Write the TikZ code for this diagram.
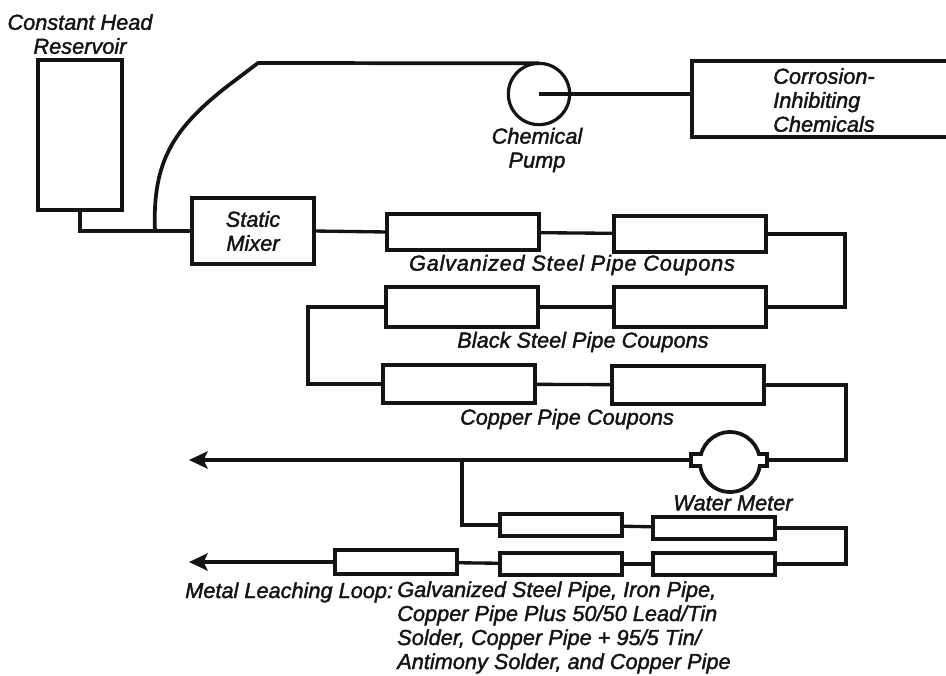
\documentclass[tikz,border=0pt]{standalone}
\usepackage{fontspec}
\setmainfont[ItalicFeatures={FakeBold=1.7}]{Liberation Sans}
\usetikzlibrary{shapes.geometric, arrows.meta, positioning}
\definecolor{Ink}{HTML}{141414}

\begin{document}
\begin{tikzpicture}[
            x=0.75pt, y=-0.75pt,
            box/.style={
                rectangle,
                draw=Ink,
                line width=3pt,
                fill=white,
                outer sep=0pt,
                inner sep=0pt
            },
            coupon/.style={box, minimum width=114pt, minimum height=27pt},
            loopbox/.style={box, line width=2.8pt, minimum width=91pt, minimum height=16pt},
            pipe/.style={line width=2.5pt, color=Ink},
            outflow/.style={pipe, -{Stealth[length=14pt, width=13pt, inset=3pt]}},
            note/.style={font=\itshape\fontsize{16.3}{18}\selectfont, text=Ink, inner sep=0pt, align=center},
            notelist/.style={note, align=left}
        ]
            \useasboundingbox (0,0) rectangle (946,675);
            \clip (0,0) rectangle (946,675);

            % Head end
            \node[box, minimum width=63pt, minimum height=112pt] (reservoir) at (80,135) {};
            \node[box, minimum width=91pt, minimum height=49pt] (mixer) at (253,231) {};
            \node[box, circle, line width=2.4pt, minimum size=46pt] (pump) at (539,94) {};
            \node[box, minimum width=205pt, minimum height=57pt] (chem) at (829,99) {};
            \coordinate (tee) at (155,231);
            \coordinate (sweep) at (225,88);
            \coordinate (crest) at (258,63);

            % Coupon racks
            \node[coupon] (galvA) at (463,232) {};
            \node[coupon] (galvB) at (690,234) {};
            \node[coupon, minimum height=30pt] (blackA) at (462,307) {};
            \node[coupon, minimum height=30pt] (blackB) at (690,307) {};
            \node[coupon, minimum height=29pt] (copperA) at (459,384) {};
            \node[coupon, minimum height=29pt] (copperB) at (688,385) {};
            \coordinate (bendA) at (845,270);
            \coordinate (bendB) at (308,340);
            \coordinate (bendC) at (846,420);

            % Meter and outlet
            \node[box, line width=2.6pt, minimum width=57pt, minimum height=9pt] (flange) at (729,460) {};
            \node[box, ellipse, line width=2.8pt, minimum width=45pt, minimum height=45pt] (meter) at (730,462) {};
            \node[fill=white, inner sep=0pt, minimum width=53pt, minimum height=6pt] (port) at (729,460) {};
            \coordinate (outletA) at (189,460);
            \coordinate (tap) at (462,460);

            % Leaching loop
            \node[loopbox] (leachA) at (561,525) {};
            \node[loopbox] (leachB) at (714,528) {};
            \node[loopbox] (leachC) at (714,564) {};
            \node[loopbox] (leachD) at (561,564) {};
            \node[loopbox, minimum height=18pt] (leachE) at (396,562) {};
            \coordinate (bendD) at (846,545);
            \coordinate (outletB) at (189,562);

            % Labels
            \node[note] (reservoirlabel) at (80,34) {Constant Head\\Reservoir};
            \node[note] (mixerlabel) at (mixer) {Static\\Mixer};
            \node[note] (pumplabel) at (537,150) {Chemical\\Pump};
            \node[notelist, anchor=west] (chemlabel) at (773,100) {Corrosion-\\Inhibiting\\Chemicals};
            \node[note] (galvlabel) at (572,265) {\addfontfeature{LetterSpace=3.5}Galvanized Steel Pipe Coupons};
            \node[note] (blacklabel) at (583,342) {Black Steel Pipe Coupons};
            \node[note] (copperlabel) at (567,419) {Copper Pipe Coupons};
            \node[note] (meterlabel) at (733,503) {Water Meter};
            \node[note, anchor=base west] (leachlabel) at (185,598) {Metal Leaching Loop:};
            \node[notelist, anchor=north west] (leachlist) at (397,581) {Galvanized Steel Pipe, Iron Pipe,\\Copper Pipe Plus 50/50 Lead/Tin\\Solder, Copper Pipe + 95/5 Tin/\\Antimony Solder, and Copper Pipe};

            % Feed lines
            \draw[pipe] (reservoir.south) |- (mixer.west);
            \draw[pipe, line width=2.8pt, line join=round] (tee) .. controls (152,160) and (175,128) .. (sweep) -- (crest) -- (pump.north);
            \draw[pipe] (pump.center) -- (pump.center -| chem.west);

            % Through the racks
            \draw[pipe] (mixer.east) -- (galvA.west);
            \draw[pipe] (galvA) -- (galvB);
            \draw[pipe] (galvB.east) -| (bendA) |- (blackB.east);
            \draw[pipe] (blackB) -- (blackA);
            \draw[pipe] (blackA.west) -| (bendB) |- (copperA.west);
            \draw[pipe] (copperA) -- (copperB);
            \draw[pipe] (copperB.east) -| (bendC) |- (flange.east);
            \draw[outflow] (flange.west) -- (outletA);

            % Loop
            \draw[pipe] (tap) |- (leachA.west);
            \draw[pipe] (leachA) -- (leachB);
            \draw[pipe] (leachB.east) -| (bendD) |- (leachC.east);
            \draw[pipe] (leachC) -- (leachD);
            \draw[pipe] (leachD) -- (leachE);
            \draw[outflow] (leachE.west) -- (outletB);
        \end{tikzpicture}
\end{document}
